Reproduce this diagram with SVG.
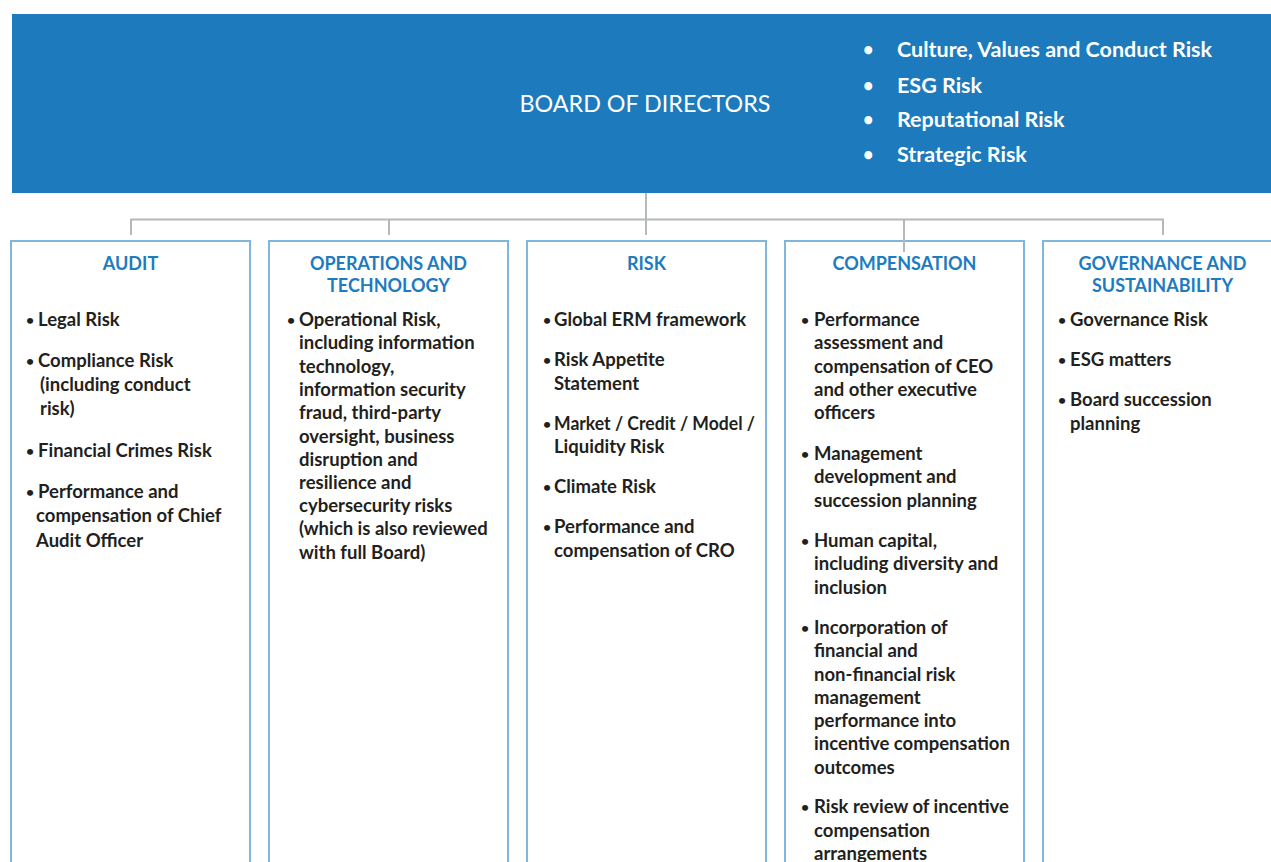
<svg xmlns="http://www.w3.org/2000/svg" width="1271" height="862" viewBox="0 0 1271 862">
<style>
.hdr{fill:#1c7abd}
.box{fill:#ffffff;stroke:#80b6de;stroke-width:2}
.con{fill:none;stroke:#b5b9b9;stroke-width:2}
.ttl{font-family:Lato,"Open Sans",sans-serif;font-weight:700;font-size:18px;fill:#1d7bc0;text-anchor:middle}
.itm{font-family:Lato,"Open Sans",sans-serif;font-weight:700;font-size:18.5px;fill:#231f20}
.bt{font-family:Lato,"Open Sans",sans-serif;font-weight:700;font-size:14px;fill:#231f20}
.board{font-family:Lato,"Open Sans",sans-serif;font-weight:400;font-size:23.3px;fill:#ffffff;text-anchor:middle}
.hb{font-family:Lato,"Open Sans",sans-serif;font-weight:700;font-size:21.5px;fill:#ffffff}
.hbt{font-family:Lato,"Open Sans",sans-serif;font-weight:700;font-size:18px;fill:#ffffff}
</style>
<rect width="1271" height="862" fill="#ffffff"/>
<g id="board">
<rect class="hdr" x="12" y="14" width="1270" height="179"/>
<text class="board" x="645" y="112">BOARD OF DIRECTORS</text>
<text class="hbt" x="863" y="56">•</text><text class="hb" x="897" y="57">Culture, Values and Conduct Risk</text>
<text class="hbt" x="863" y="92">•</text><text class="hb" x="897" y="93">ESG Risk</text>
<text class="hbt" x="863" y="126">•</text><text class="hb" x="897" y="127">Reputational Risk</text>
<text class="hbt" x="863" y="161">•</text><text class="hb" x="897" y="162">Strategic Risk</text>
</g>
<g id="audit">
<rect class="box" x="11" y="241" width="239" height="640"/>
<text class="ttl" x="130.5" y="270">AUDIT</text>
<text class="bt" x="26" y="325">•</text><text class="itm" x="38" y="326">Legal Risk</text>
<text class="bt" x="26" y="366">•</text><text class="itm" x="38" y="367">Compliance Risk</text>
<text class="itm" x="40" y="391">(including conduct</text>
<text class="itm" x="40" y="415">risk)</text>
<text class="bt" x="26" y="456">•</text><text class="itm" x="38" y="457">Financial Crimes Risk</text>
<text class="bt" x="26" y="497">•</text><text class="itm" x="38" y="498">Performance and</text>
<text class="itm" x="36" y="522">compensation of Chief</text>
<text class="itm" x="36" y="547">Audit Officer</text>
</g>
<g id="operations">
<rect class="box" x="269" y="241" width="239" height="640"/>
<text class="ttl" x="388.5" y="270">OPERATIONS AND</text>
<text class="ttl" x="388.5" y="292">TECHNOLOGY</text>
<text class="bt" x="287" y="325">•</text>
<text class="itm" x="299" y="326">Operational Risk,</text>
<text class="itm" x="299" y="349">including information</text>
<text class="itm" x="299" y="373">technology,</text>
<text class="itm" x="299" y="396">information security</text>
<text class="itm" x="299" y="419">fraud, third-party</text>
<text class="itm" x="299" y="443">oversight, business</text>
<text class="itm" x="299" y="466">disruption and</text>
<text class="itm" x="299" y="489">resilience and</text>
<text class="itm" x="299" y="512">cybersecurity risks</text>
<text class="itm" x="299" y="535">(which is also reviewed</text>
<text class="itm" x="299" y="559">with full Board)</text>
</g>
<g id="risk">
<rect class="box" x="527" y="241" width="239" height="640"/>
<text class="ttl" x="646.5" y="270">RISK</text>
<text class="bt" x="543" y="325">•</text><text class="itm" x="554" y="326">Global ERM framework</text>
<text class="bt" x="543" y="365">•</text><text class="itm" x="554" y="366">Risk Appetite</text>
<text class="itm" x="554" y="390">Statement</text>
<text class="bt" x="543" y="429">•</text><text class="itm" x="554" y="430" textLength="201" lengthAdjust="spacingAndGlyphs">Market / Credit / Model /</text>
<text class="itm" x="554" y="453">Liquidity Risk</text>
<text class="bt" x="543" y="492">•</text><text class="itm" x="554" y="493">Climate Risk</text>
<text class="bt" x="543" y="532">•</text><text class="itm" x="554" y="533">Performance and</text>
<text class="itm" x="554" y="557">compensation of CRO</text>
</g>
<g id="compensation">
<rect class="box" x="785" y="241" width="239" height="640"/>
<text class="ttl" x="904.5" y="270">COMPENSATION</text>
<text class="bt" x="801" y="325">•</text>
<text class="itm" x="814" y="326">Performance</text>
<text class="itm" x="814" y="349">assessment and</text>
<text class="itm" x="814" y="373">compensation of CEO</text>
<text class="itm" x="814" y="396">and other executive</text>
<text class="itm" x="814" y="419">officers</text>
<text class="bt" x="801" y="459">•</text>
<text class="itm" x="814" y="460">Management</text>
<text class="itm" x="814" y="483">development and</text>
<text class="itm" x="814" y="507">succession planning</text>
<text class="bt" x="801" y="546">•</text>
<text class="itm" x="814" y="547">Human capital,</text>
<text class="itm" x="814" y="570">including diversity and</text>
<text class="itm" x="814" y="594">inclusion</text>
<text class="bt" x="801" y="633">•</text>
<text class="itm" x="814" y="634">Incorporation of</text>
<text class="itm" x="814" y="657">financial and</text>
<text class="itm" x="814" y="681">non-financial risk</text>
<text class="itm" x="814" y="704">management</text>
<text class="itm" x="814" y="727">performance into</text>
<text class="itm" x="814" y="750">incentive compensation</text>
<text class="itm" x="814" y="774">outcomes</text>
<text class="bt" x="801" y="812">•</text>
<text class="itm" x="814" y="813">Risk review of incentive</text>
<text class="itm" x="814" y="837">compensation</text>
<text class="itm" x="814" y="860">arrangements</text>
</g>
<g id="governance">
<rect class="box" x="1043" y="241" width="239" height="640"/>
<text class="ttl" x="1162.5" y="270">GOVERNANCE AND</text>
<text class="ttl" x="1162.5" y="292">SUSTAINABILITY</text>
<text class="bt" x="1058" y="325">•</text><text class="itm" x="1070" y="326">Governance Risk</text>
<text class="bt" x="1058" y="365">•</text><text class="itm" x="1070" y="366">ESG matters</text>
<text class="bt" x="1058" y="405">•</text><text class="itm" x="1070" y="406">Board succession</text>
<text class="itm" x="1070" y="430">planning</text>
</g>
<g id="connectors">
<path class="con" d="M131,235 V219.5 H1163 V235"/>
<path class="con" d="M389,219.5 V235"/>
<path class="con" d="M646,193 V235"/>
<path class="con" d="M904,219.5 V252"/>
</g>
</svg>
